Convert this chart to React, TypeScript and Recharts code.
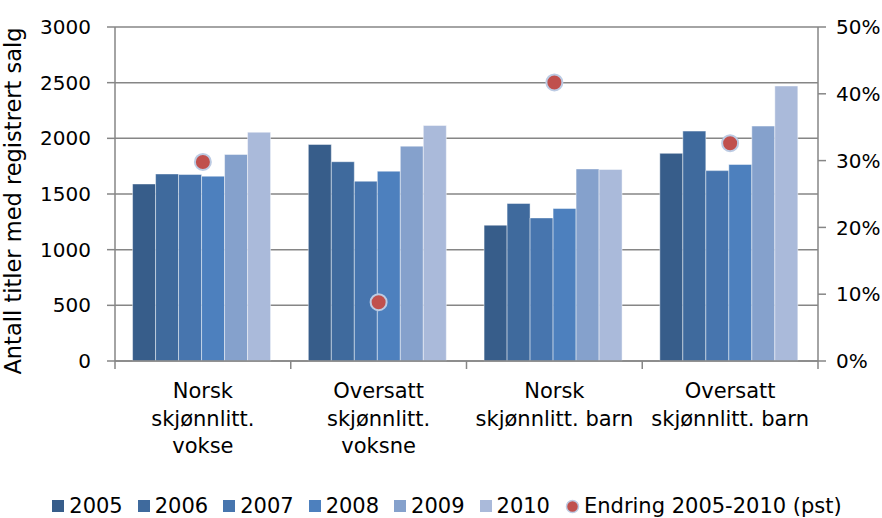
import React from 'react';
import { ComposedChart, Bar, Scatter, XAxis, YAxis, CartesianGrid, Legend } from 'recharts';

const categories = [
  'Norsk skjønnlitt. vokse',
  'Oversatt skjønnlitt. voksne',
  'Norsk skjønnlitt. barn',
  'Oversatt skjønnlitt. barn',
];
const categoryLines = [
  ['Norsk', 'skjønnlitt.', 'vokse'],
  ['Oversatt', 'skjønnlitt.', 'voksne'],
  ['Norsk', 'skjønnlitt. barn'],
  ['Oversatt', 'skjønnlitt. barn'],
];
const years = ['2005', '2006', '2007', '2008', '2009', '2010'];
const v2005 = [1590, 1945, 1220, 1865];
const v2006 = [1680, 1790, 1415, 2065];
const v2007 = [1675, 1615, 1285, 1710];
const v2008 = [1660, 1705, 1370, 1765];
const v2009 = [1855, 1930, 1725, 2110];
const v2010 = [2055, 2115, 1720, 2470];
const endring = [29.8, 8.8, 41.7, 32.6];
const leftTicks = [0, 500, 1000, 1500, 2000, 2500, 3000];
const rightTicks = [0, 10, 20, 30, 40, 50];
const barColors = ['#375D8A', '#3F6A9D', '#4775AE', '#4D80BE', '#85A1CC', '#AABADA'];
const dotColor = '#C0504D';
const dotStroke = '#BCCBE3';
const endringLabel = 'Endring 2005-2010 (pst)';
const yLabel = 'Antall titler med registrert salg';

const seriesValues = [v2005, v2006, v2007, v2008, v2009, v2010];

const data = categories.map((c, i) => {
  const row: any = { cat: c, endring: endring[i] };
  years.forEach((y, j) => {
    row['y' + y] = seriesValues[j][i];
  });
  return row;
});

const FONT = "'DejaVu Sans', 'Verdana', sans-serif";
const AXIS = '#868686';
const TICK_SIZE = 8;
const TICK_MARGIN = 2;

const XTick = (props: any) => {
  const { x, y, payload } = props;
  const idx = categories.indexOf(payload.value);
  const lines = categoryLines[idx] || [String(payload.value)];
  const axisY = y - TICK_SIZE - TICK_MARGIN;
  const half = typeof payload.offset === 'number' && payload.offset > 0 ? payload.offset : 87.875;
  return (
    <g>
      <line x1={x - half} x2={x - half} y1={axisY} y2={axisY + TICK_SIZE} stroke={AXIS} strokeWidth={1.5} />
      {idx === categories.length - 1 && (
        <line x1={x + half} x2={x + half} y1={axisY} y2={axisY + TICK_SIZE} stroke={AXIS} strokeWidth={1.5} />
      )}
      <text x={x} y={axisY + 37} textAnchor="middle" fontSize={21} fill="#000" fontFamily={FONT}>
        {lines.map((l, k) => (
          <tspan key={k} x={x} dy={k === 0 ? 0 : 27.5}>
            {l}
          </tspan>
        ))}
      </text>
    </g>
  );
};

const LegendContent = () => (
  <div
    style={{
      height: 30,
      display: 'flex',
      justifyContent: 'center',
      alignItems: 'center',
      fontFamily: FONT,
      fontSize: 21,
      color: '#000',
      paddingLeft: 12,
      transform: 'translateY(3px)',
    }}
  >
    {years.map((y, i) => (
      <div key={y} style={{ display: 'flex', alignItems: 'center', marginRight: 15 }}>
        <div style={{ width: 12, height: 12, background: barColors[i], marginRight: 5 }} />
        <span>{y}</span>
      </div>
    ))}
    <div style={{ display: 'flex', alignItems: 'center' }}>
      <svg width={15} height={15} style={{ marginRight: 4 }}>
        <circle cx={7.5} cy={7.5} r={6} fill={dotColor} stroke={dotStroke} strokeWidth={1.5} />
      </svg>
      <span>{endringLabel}</span>
    </div>
  </div>
);

const YLabel = (p: any) => {
  const vb = p.viewBox || {};
  const cy = (vb.y ?? 27) + (vb.height ?? 334) / 2 + 7;
  return (
    <text
      x={21}
      y={cy}
      transform={`rotate(-90 21 ${cy})`}
      textAnchor="middle"
      fontSize={22.5}
      fill="#000"
      fontFamily={FONT}
    >
      {yLabel}
    </text>
  );
};

export default function App() {
  return (
    <div style={{ position: 'absolute', left: 0, top: 0, width: 882, height: 518, background: '#fff' }}>
      <ComposedChart
        width={882}
        height={518}
        data={data}
        margin={{ top: 27, right: 0, bottom: 0, left: 0 }}
        barGap={0}
        barCategoryGap="10%"
      >
        <CartesianGrid vertical={false} yAxisId="left" stroke={AXIS} strokeWidth={1.5} />
        <XAxis
          dataKey="cat"
          height={127}
          tick={<XTick />}
          tickLine={false}
          tickSize={TICK_SIZE}
          tickMargin={TICK_MARGIN}
          interval={0}
          axisLine={{ stroke: AXIS, strokeWidth: 1.5 }}
        />
        <YAxis
          yAxisId="left"
          width={115}
          domain={[0, 3000]}
          ticks={leftTicks}
          interval={0}
          tickSize={TICK_SIZE}
          tickMargin={16}
          axisLine={{ stroke: AXIS, strokeWidth: 1.5 }}
          tickLine={{ stroke: AXIS, strokeWidth: 1.5 }}
          tick={{ fontSize: 20, fill: '#000', fontFamily: FONT }}
          label={YLabel}
        />
        <YAxis
          yAxisId="right"
          orientation="right"
          width={64}
          domain={[0, 50]}
          ticks={rightTicks}
          interval={0}
          tickSize={TICK_SIZE}
          tickMargin={10}
          tickFormatter={(v: number) => v + '%'}
          axisLine={{ stroke: AXIS, strokeWidth: 1.5 }}
          tickLine={{ stroke: AXIS, strokeWidth: 1.5 }}
          tick={{ fontSize: 20, fill: '#000', fontFamily: FONT }}
        />
        {years.map((y, i) => (
          <Bar
            key={y}
            yAxisId="left"
            dataKey={'y' + y}
            name={y}
            fill={barColors[i]}
            stroke="rgba(255,255,255,0.45)"
            strokeWidth={1}
            isAnimationActive={false}
          />
        ))}
        <Scatter
          yAxisId="right"
          dataKey="endring"
          name={endringLabel}
          isAnimationActive={false}
          shape={(p: any) => (
            <circle cx={p.cx} cy={p.cy} r={8} fill={dotColor} stroke={dotStroke} strokeWidth={2} />
          )}
        />
        <Legend verticalAlign="bottom" content={() => <LegendContent />} />
      </ComposedChart>
    </div>
  );
}
